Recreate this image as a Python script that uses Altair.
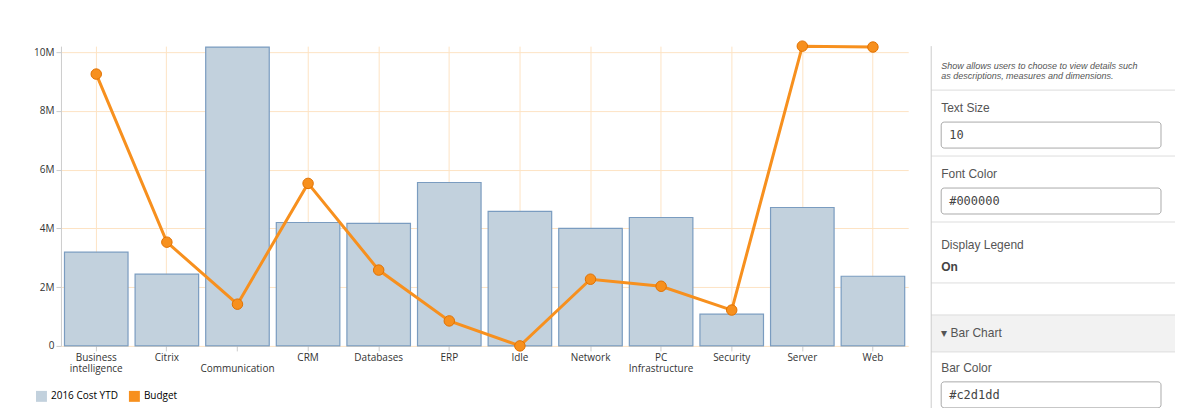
import pandas as pd
import altair as alt

categories = ["Business intelligence", "Citrix", "Communication", "CRM", "Databases", "ERP",
              "Idle", "Network", "PC Infrastructure", "Security", "Server", "Web"]
cost_ytd = [3.19e6, 2.44e6, 10.17e6, 4.2e6, 4.17e6, 5.56e6, 4.58e6, 4.0e6, 4.37e6, 1.08e6, 4.71e6, 2.37e6]
budget = [9.25e6, 3.53e6, 1.42e6, 5.53e6, 2.58e6, 0.85e6, 0.0, 2.27e6, 2.03e6, 1.22e6, 10.2e6, 10.17e6]

panel_text = ["Show allows users to choose to view details such",
              "as descriptions, measures and dimensions.",
              "Text Size", "10", "Font Color", "#000000", "Display Legend", "On",
              "▾  Bar Chart", "Bar Color", "#c2d1dd", "Bar Hover Color"]
panel_rows = [28, 38, 70, 97, 136, 163, 207, 229, 295, 330, 357, 396]
panel_style = ["note", "note", "label", "input", "label", "input", "label", "bold",
               "label", "label", "input", "label"]
separators = [52, 118, 184, 245, 277, 314]

df = pd.DataFrame({"category": categories, "cost": cost_ytd, "budget": budget})
color = alt.Scale(domain=["2016 Cost YTD", "Budget"], range=["#c2d1dd", "#f7901e"])
legend = alt.Legend(orient="none", legendX=-25, legendY=345, direction="horizontal",
                    symbolType="square", symbolSize=120, labelFontSize=10, symbolStrokeWidth=0)

label_expr = ("datum.value == 'Business intelligence' ? ['Business', 'intelligence'] : "
              "datum.value == 'PC Infrastructure' ? ['PC', 'Infrastructure'] : "
              "datum.value == 'Communication' ? ['', 'Communication'] : datum.value")

x = alt.X("category:N", sort=categories, title=None,
          axis=alt.Axis(labelAngle=0, labelExpr=label_expr, labelFontSize=10, labelColor="#333",
                        domain=False, tickColor="#ccc", labelLineHeight=11, grid=True,
                        labelOverlap=False, gridColor="#fde3c4"))

bars = alt.Chart(df).mark_bar(stroke="#7a9cc0", strokeWidth=1.2).encode(
    x=x,
    y=alt.Y("cost:Q", title=None, scale=alt.Scale(domain=[0, 10.2e6], nice=False),
            axis=alt.Axis(values=[i * 1e6 for i in range(11)], labelOverlap=False,
                          labelExpr="datum.value == 0 ? '0' : datum.value / 1e6 + 'M'",
                          labelFontSize=10, labelColor="#333", domainColor="#ccc",
                          tickColor="#ccc", gridColor="#fde3c4")),
    color=alt.Color("s:N", scale=color, title=None, legend=legend)
).transform_calculate(s="'2016 Cost YTD'")

line = alt.Chart(df).mark_line(color="#f7901e", strokeWidth=3).encode(
    x=alt.X("category:N", sort=categories), y="budget:Q")
pts = alt.Chart(df).mark_point(filled=True, size=110, stroke="#e07000",
                               strokeWidth=1, opacity=1).encode(
    x=alt.X("category:N", sort=categories), y="budget:Q",
    color=alt.Color("s:N", scale=color, title=None, legend=legend)).transform_calculate(s="'Budget'")

main = alt.layer(bars, line, pts).properties(
    width=848, height=300,
    title=alt.TitleParams(" ", fontSize=10, offset=20))

pdf = pd.DataFrame({"t": panel_text, "row": panel_rows, "style": panel_style})
yscale = alt.Scale(domain=[8, 408], reverse=True)
ys = alt.Y("row:Q", scale=yscale, axis=None)
panel_base = alt.Chart(pdf).encode(y=ys)
note = panel_base.mark_text(align="left", fontSize=9, fontStyle="italic", color="#555",
                            x=6).encode(text="t:N").transform_filter("datum.style == 'note'")
lab = panel_base.mark_text(align="left", fontSize=12, color="#555", x=6).encode(
    text="t:N").transform_filter("datum.style == 'label'")
bold = panel_base.mark_text(align="left", fontSize=12, fontWeight="bold", color="#444",
                            x=6).encode(text="t:N").transform_filter("datum.style == 'bold'")
boxes = panel_base.mark_rect(fill="white", stroke="#aaa", cornerRadius=3).encode(
    x=alt.value(6), x2=alt.value(226), y=alt.Y("y0:Q", scale=yscale, axis=None),
    y2="y1:Q").transform_filter("datum.style == 'input'").transform_calculate(
    y0="datum.row - 13", y1="datum.row + 13")
inp = panel_base.mark_text(align="left", fontSize=12, font="DejaVu Sans Mono", color="#444",
                           x=14).encode(text="t:N").transform_filter("datum.style == 'input'")
sep = alt.Chart(pd.DataFrame({"r": separators})).mark_rule(color="#ddd").encode(
    y=alt.Y("r:Q", scale=yscale, axis=None), x=alt.value(-4), x2=alt.value(240))
band = alt.Chart(pd.DataFrame({"a": [277], "b": [314]})).mark_rect(color="#f2f2f2").encode(
    y=alt.Y("a:Q", scale=yscale, axis=None), y2="b:Q", x=alt.value(-4), x2=alt.value(240))
border = alt.Chart(pd.DataFrame({"a": [8], "b": [408]})).mark_rule(color="#ccc").encode(
    y=alt.Y("a:Q", scale=yscale, axis=None), y2="b:Q", x=alt.value(-4))
panel = alt.layer(band, sep, border, boxes, note, lab, bold, inp).properties(width=235, height=400)

chart = alt.hconcat(main, panel, spacing=22).properties(
    padding={"top": 0, "left": 25, "bottom": 0, "right": 0}
).configure_view(stroke=None).configure_axis(labelFont="Open Sans").configure_legend(
    labelFont="Open Sans")
chart.save("out.html", embed_options={"renderer": "svg", "actions": False})
